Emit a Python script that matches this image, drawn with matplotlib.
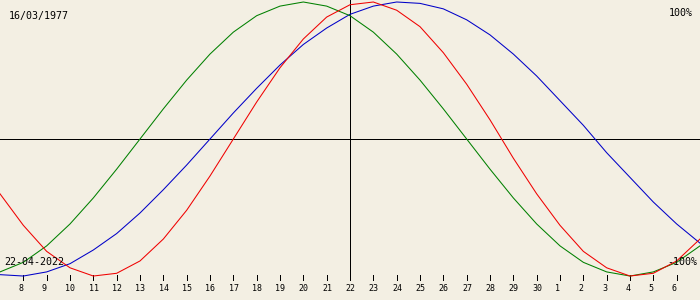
import matplotlib.pyplot as plt

# Biorhythm for birth date 16/03/1977, centred on 22-04-2022
# one point per day, 7 April .. 7 May
day_labels = ['7', '8', '9', '10', '11', '12', '13', '14', '15', '16', '17',
              '18', '19', '20', '21', '22', '23', '24', '25', '26', '27', '28',
              '29', '30', '1', '2', '3', '4', '5', '6', '7']

physical = [-0.40, -0.63, -0.82, -0.94, -1.00, -0.98, -0.89, -0.73, -0.52, -0.27,
            0.00, 0.27, 0.52, 0.73, 0.89, 0.98, 1.00, 0.94, 0.82, 0.63,
            0.40, 0.14, -0.14, -0.40, -0.63, -0.82, -0.94, -1.00, -0.98, -0.89, -0.73]
emotional = [-0.97, -0.90, -0.78, -0.62, -0.43, -0.22, 0.00, 0.22, 0.43, 0.62,
             0.78, 0.90, 0.97, 1.00, 0.97, 0.90, 0.78, 0.62, 0.43, 0.22,
             0.00, -0.22, -0.43, -0.62, -0.78, -0.90, -0.97, -1.00, -0.97, -0.90, -0.78]
intellectual = [-0.99, -1.00, -0.97, -0.91, -0.81, -0.69, -0.54, -0.37, -0.19, 0.00,
                0.19, 0.37, 0.54, 0.69, 0.81, 0.91, 0.97, 1.00, 0.99, 0.95,
                0.87, 0.76, 0.62, 0.46, 0.28, 0.10, -0.10, -0.28, -0.46, -0.62, -0.76]

birth_date = "16/03/1977"
target_date = "22-04-2022"
target_idx = 15

BG = '#F3EFE3'
MONO = 'DejaVu Sans Mono'
LW = 0.7

fig = plt.figure(figsize=(7, 3), dpi=100, facecolor=BG)
ax = fig.add_axes([0, 0, 1, 1])
ax.set_facecolor(BG)
ax.set_xlim(0, len(day_labels) - 1)
ax.set_ylim(-1.175, 1.0146)
ax.axis('off')

xs = list(range(len(day_labels)))
ax.plot(xs, intellectual, color='#0000C8', lw=0.75, zorder=3)
ax.plot(xs, physical, color='#F00000', lw=0.75, zorder=4)
ax.plot(xs, emotional, color='#008000', lw=0.75, zorder=3)

# zero line and today marker
ax.axhline(0, color='black', lw=LW, antialiased=False, zorder=2)
ax.axvline(target_idx, ymin=20 / 300, ymax=1, color='black', lw=LW,
           antialiased=False, zorder=2)

# day ticks along the bottom
xt = ax.get_xaxis_transform()
for i in range(1, len(day_labels) - 1):
    ax.plot([i, i], [20 / 300, 25 / 300], transform=xt, color='black',
            lw=LW, antialiased=False, zorder=2)
    ax.annotate(day_labels[i], xy=(i, 11.5 / 300), xycoords=xt,
                xytext=(-3.4, 0), textcoords='offset points',
                ha='left', va='center', fontsize=6, family=MONO)

ta = ax.transAxes
ax.text(9 / 700, 1 - 16.5 / 300, birth_date, transform=ta, ha='left',
        va='center', fontsize=7.2, family=MONO, zorder=5)
ax.text(693 / 700, 1 - 12.5 / 300, '100%', transform=ta, ha='right',
        va='center', fontsize=7.2, family=MONO, zorder=5)
ax.text(4 / 700, 1 - 262 / 300, target_date, transform=ta, ha='left',
        va='center', fontsize=7.2, family=MONO, zorder=5)
ax.text(697 / 700, 1 - 262 / 300, '-100%', transform=ta, ha='right',
        va='center', fontsize=7.2, family=MONO, zorder=5)

fig.savefig('out.png', dpi=100, facecolor=BG)
